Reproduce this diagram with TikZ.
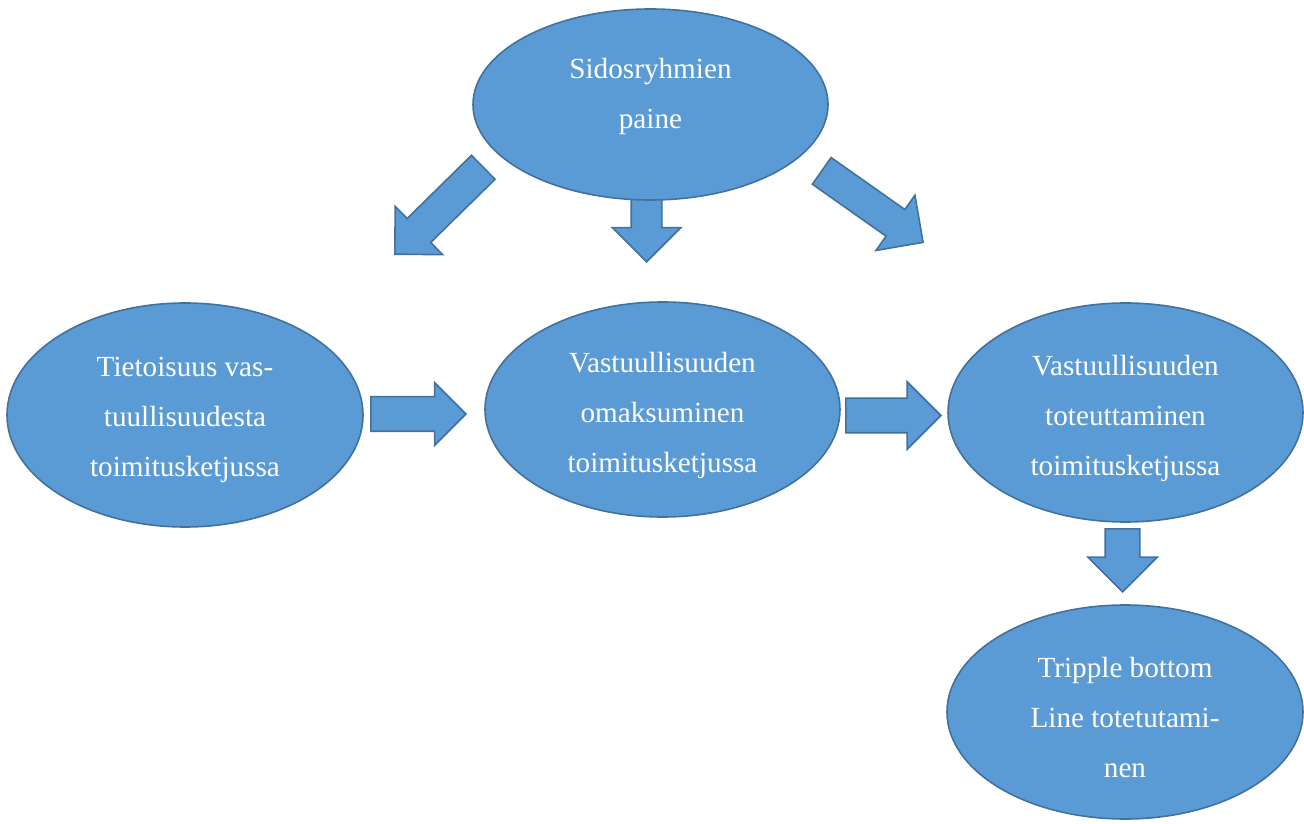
\documentclass[tikz,border=0pt]{standalone}
\usepackage{fontspec}
\setmainfont{Liberation Serif}
\usetikzlibrary{shapes.geometric,shapes.arrows}

\definecolor{bubblefill}{HTML}{5B9BD5}
\definecolor{bubbleline}{HTML}{41719C}

\tikzset{
  bubble/.style={ellipse, draw=bubbleline, fill=bubblefill, line width=1.6pt, inner sep=0pt},
  bubbletext/.style={text=white, align=center, inner sep=0pt, font=\fontsize{29.2}{50}\selectfont},
  blockarrow/.style={single arrow, draw=bubbleline, fill=bubblefill, line width=1.6pt,
    inner xsep=0pt, inner ysep=#1, anchor=tip},
}

\begin{document}
\begin{tikzpicture}[x=1pt,y=1pt]
        \useasboundingbox (0,0) rectangle (1304,823);
        % block arrows first, so the ellipses cover their tails
        \node[blockarrow=16pt, single arrow head extend=17pt, minimum height=124pt, rotate=-135.5] (pushL) at (394,568) {};
        \node[blockarrow=14.5pt, single arrow head extend=19pt, minimum height=68pt, rotate=-90] (pushM) at (646.5,560) {};
        \node[blockarrow=15.5pt, single arrow head extend=17.5pt, minimum height=124pt, rotate=-35.2] (pushR) at (924,580) {};
        \node[blockarrow=16.5pt, single arrow head extend=14pt, minimum height=95pt] (stepA) at (467,409) {};
        \node[blockarrow=16.5pt, single arrow head extend=16.5pt, minimum height=95pt] (stepB) at (942,407.5) {};
        \node[blockarrow=16.5pt, single arrow head extend=17.5pt, minimum height=63pt, rotate=-90] (stepC) at (1122.5,230) {};
        % ellipses
        \node[bubble, minimum width=355pt, minimum height=191pt] (paine) at (650.5,718.5) {};
        \node[bubble, minimum width=356pt, minimum height=224pt] (tietoisuus) at (185,408) {};
        \node[bubble, minimum width=355pt, minimum height=215pt] (omaksuminen) at (662.5,413.5) {};
        \node[bubble, minimum width=355pt, minimum height=219pt] (toteuttaminen) at (1125.5,410.5) {};
        \node[bubble, minimum width=356pt, minimum height=214pt] (tbl) at (1125,111) {};
        % texts
        \node[bubbletext] (paine-t) at ([yshift=8pt]paine.center) {Sidosryhmien\\paine};
        \node[bubbletext] (tietoisuus-t) at ([yshift=-5pt]tietoisuus.center) {Tietoisuus vas-\\tuullisuudesta\\toimitusketjussa};
        \node[bubbletext] (omaksuminen-t) at ([yshift=-6pt]omaksuminen.center) {Vastuullisuuden\\omaksuminen\\toimitusketjussa};
        \node[bubbletext] (toteuttaminen-t) at ([yshift=-6pt]toteuttaminen.center) {Vastuullisuuden\\toteuttaminen\\toimitusketjussa};
        \node[bubbletext] (tbl-t) at ([yshift=-6pt]tbl.center) {Tripple bottom\\Line totetutami-\\nen};
    \end{tikzpicture}
\end{document}
